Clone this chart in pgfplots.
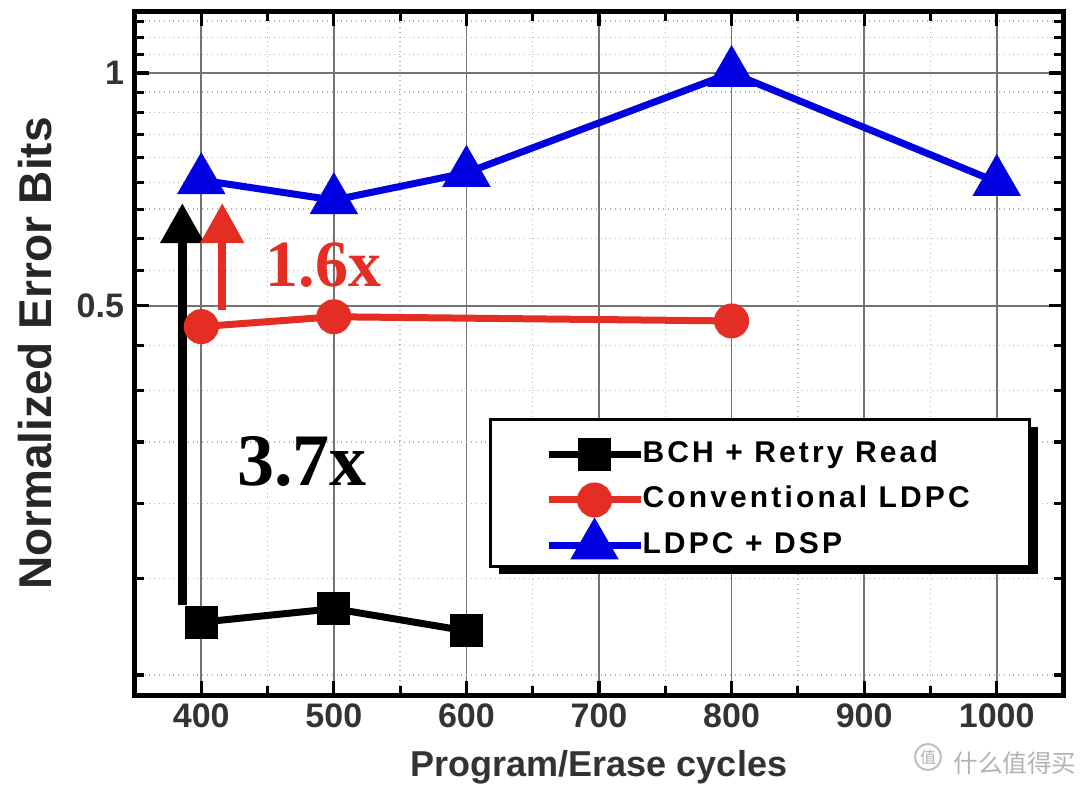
\documentclass[border=0pt]{standalone}
\usepackage{pgfplots}
\pgfplotsset{compat=1.18}
\usepackage{fontspec}
\setmainfont{Liberation Sans}
\newfontfamily\serifb{Liberation Serif}
\newfontfamily\legfont[LetterSpace=10.5]{Liberation Sans}
\newfontfamily\cjk{Noto Sans CJK SC}
\usetikzlibrary{arrows.meta,shadows}
\definecolor{myred}{RGB}{228,45,35}
\definecolor{myblue}{RGB}{0,0,225}
\makeatletter
\tikzset{no preactions/.code={\let\tikz@preactions\pgfutil@empty}}
\makeatother

\begin{document}
\begin{tikzpicture}
\useasboundingbox (-67.5pt,-47.5pt) rectangle (472.5pt,347.5pt);
\begin{axis}[
  scale only axis, width=464pt, height=341.5pt,
  at={(0,0)}, anchor=south west,
  xmin=350, xmax=1050,
  ymode=log, ymin=0.157, ymax=1.199,
  xtick={400,500,600,700,800,900,1000},
  xticklabels={400,500,600,700,800,900,1000},
  minor xtick={450,550,650,750,850,950},
  ytick={0.5,1}, yticklabels={0.5,1},
  minor ytick={0.16667,0.22222,0.27778,0.33333,0.38889,0.44444,0.55556,0.61111,0.66667,0.72222,0.77778,0.83333,0.88889,0.94444,1.05556,1.11111,1.16667},
  grid=both,
  major grid style={black!55, line width=0.9pt},
  minor grid style={black!30, dotted, line width=0.7pt},
  axis line style={line width=2.5pt},
  tick style={black, line width=1.6pt},
  major tick length=7pt, minor tick length=4.5pt,
  tick align=inside,
  ticklabel style={font=\bfseries\fontsize{17}{17}\selectfont, text=black!80},
  yticklabel style={xshift=-2pt},
  xticklabel style={yshift=-1pt},
  xlabel={Program/Erase cycles}, ylabel={Normalized Error Bits},
  xlabel style={font=\bfseries\fontsize{18}{18}\selectfont, text=black!80, at={(axis description cs:0.5,-0.1054)}, anchor=center},
  ylabel style={font=\bfseries\fontsize{23}{23}\selectfont, text=black!85, at={(axis description cs:-0.1078,0.5)}, anchor=center},
  legend style={
    at={(axis description cs:0.3815,0.4056)}, anchor=north west,
    draw=black, line width=1.5pt, fill=white,
    drop shadow={shadow xshift=4pt, shadow yshift=-4pt, opacity=1, fill=black},
    font=\legfont\bfseries\fontsize{15}{15}\selectfont,
    inner xsep=29pt, inner ysep=3pt,
    row sep=0.75pt,
    nodes={inner ysep=0pt, inner xsep=1pt, text height=8pt, text depth=0pt},
  },
  legend cell align=left,
  legend image code/.code={\path[no preactions, draw=none, fill=none, use as bounding box] (0pt,-7.5pt) rectangle (46pt,14.5pt);
    \draw[no preactions, mark repeat=2, mark phase=2, #1] plot coordinates {(0pt,0pt) (23pt,0pt) (46pt,0pt)};},
]
\addplot[black, line width=3.5pt, mark=square*, mark size=6.5pt] coordinates {(400,0.195) (500,0.203) (600,0.190)};
\addlegendentry{BCH + Retry Read}
\addplot[myred, line width=3.5pt, mark=*, mark size=7pt] coordinates {(400,0.470) (500,0.484) (800,0.478)};
\addlegendentry{Conventional LDPC}
\addplot[myblue, line width=3.5pt, mark=triangle*, mark size=10.5pt] coordinates {(400,0.727) (500,0.685) (600,0.743) (800,1.0) (1000,0.723)};
\addlegendentry{LDPC + DSP}

\draw[black, line width=4.5pt, -{Triangle[width=21pt,length=20pt]}] (axis cs:385.7,0.2055) -- (axis cs:385.7,0.679);
\draw[myred, line width=4pt, -{Triangle[width=21pt,length=20pt]}] (axis cs:415.8,0.494) -- (axis cs:415.8,0.679);
\node[text=myred, font=\serifb\bfseries\fontsize{33}{33}\selectfont] at (axis cs:492,0.565) {1.6x};
\node[text=black, font=\serifb\bfseries\fontsize{37}{37}\selectfont] at (axis cs:476,0.3144) {3.7x};
\end{axis}
\draw[black!25, line width=1pt] (396.5pt,-31pt) circle (6.5pt);
\node[text=black!30, font=\cjk\fontsize{8}{8}\selectfont] at (396.5pt,-31pt) {值};
\node[anchor=west, text=black!30, font=\cjk\fontsize{12.3}{12.3}\selectfont, inner sep=0pt] at (409pt,-34pt) {什么值得买};
\end{tikzpicture}
\end{document}
